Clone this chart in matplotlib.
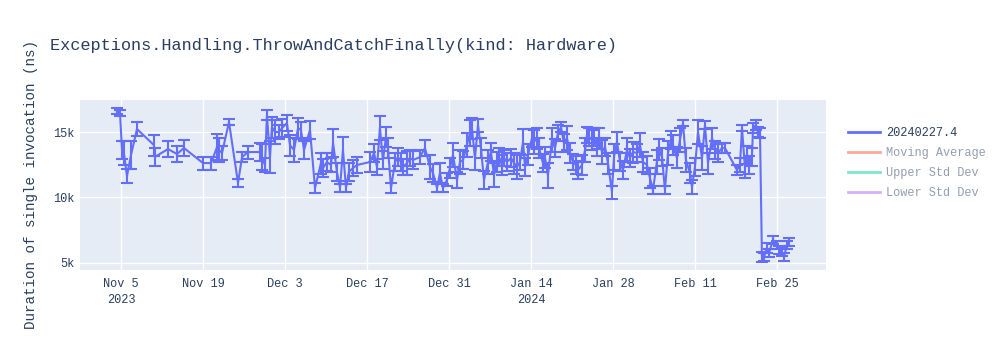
import pandas as pd
import matplotlib.pyplot as plt
import matplotlib.dates as mdates
from matplotlib.lines import Line2D
from matplotlib.ticker import FixedLocator, FuncFormatter

run_times = [
    "2023-11-04 07:40", "2023-11-04 20:00", "2023-11-05 04:00", "2023-11-05 12:00", "2023-11-06 00:30",
    "2023-11-06 17:00", "2023-11-07 17:30", "2023-11-10 15:00", "2023-11-10 19:00", "2023-11-13 00:30",
    "2023-11-14 13:30", "2023-11-15 18:00", "2023-11-19 00:00", "2023-11-20 09:00", "2023-11-21 09:30",
    "2023-11-21 17:30", "2023-11-22 06:00", "2023-11-23 10:30", "2023-11-24 23:30", "2023-11-25 16:00",
    "2023-11-26 16:30", "2023-11-28 17:30", "2023-11-29 01:30", "2023-11-29 14:00", "2023-11-29 22:00",
    "2023-11-30 10:30", "2023-11-30 18:30", "2023-12-01 07:00", "2023-12-01 23:30", "2023-12-02 12:00",
    "2023-12-03 08:00", "2023-12-03 20:30", "2023-12-04 13:00", "2023-12-05 05:30", "2023-12-05 17:30",
    "2023-12-06 06:00", "2023-12-07 06:30", "2023-12-08 03:00", "2023-12-09 03:30", "2023-12-09 11:45",
    "2023-12-10 04:00", "2023-12-10 20:30", "2023-12-11 05:00", "2023-12-11 21:00", "2023-12-12 09:30",
    "2023-12-12 21:30", "2023-12-13 10:00", "2023-12-13 22:00", "2023-12-14 14:30", "2023-12-15 07:00",
    "2023-12-17 12:00", "2023-12-18 05:00", "2023-12-18 17:00", "2023-12-19 05:00", "2023-12-19 17:30",
    "2023-12-20 06:00", "2023-12-20 14:00", "2023-12-21 02:30", "2023-12-21 19:00", "2023-12-22 07:00",
    "2023-12-22 19:30", "2023-12-23 03:30", "2023-12-23 20:00", "2023-12-24 08:00", "2023-12-24 20:30",
    "2023-12-26 01:00", "2023-12-26 21:30", "2023-12-27 18:00", "2023-12-28 06:30", "2023-12-28 23:00",
    "2023-12-29 11:00", "2023-12-29 23:30", "2023-12-30 16:00", "2023-12-31 04:00", "2023-12-31 16:30",
    "2024-01-01 09:00", "2024-01-01 21:00", "2024-01-02 09:30", "2024-01-03 01:30", "2024-01-03 14:00",
    "2024-01-03 22:00", "2024-01-04 10:30", "2024-01-04 23:00", "2024-01-05 11:00", "2024-01-05 23:30",
    "2024-01-06 16:00", "2024-01-07 04:00", "2024-01-07 16:30", "2024-01-08 05:00", "2024-01-08 13:00",
    "2024-01-09 01:00", "2024-01-09 09:30", "2024-01-09 21:30", "2024-01-10 14:00", "2024-01-11 02:30",
    "2024-01-11 14:30", "2024-01-12 03:00", "2024-01-12 15:30", "2024-01-12 23:30", "2024-01-13 12:00",
    "2024-01-14 04:00", "2024-01-14 12:00", "2024-01-15 00:45", "2024-01-15 09:00", "2024-01-16 01:00",
    "2024-01-16 09:30", "2024-01-16 21:30", "2024-01-17 14:00", "2024-01-18 02:30", "2024-01-18 14:30",
    "2024-01-19 03:00", "2024-01-19 15:00", "2024-01-20 03:30", "2024-01-20 16:00", "2024-01-21 04:00",
    "2024-01-21 16:30", "2024-01-22 00:45", "2024-01-22 17:00", "2024-01-23 05:30", "2024-01-23 13:30",
    "2024-01-23 21:30", "2024-01-24 10:00", "2024-01-24 18:00", "2024-01-25 06:30", "2024-01-25 14:45",
    "2024-01-26 03:00", "2024-01-26 15:30", "2024-01-27 03:30", "2024-01-27 20:00", "2024-01-28 04:00",
    "2024-01-28 16:30", "2024-01-29 05:00", "2024-01-29 17:00", "2024-01-30 09:30", "2024-01-30 21:30",
    "2024-01-31 10:00", "2024-02-01 02:30", "2024-02-01 14:30", "2024-02-02 03:00", "2024-02-02 19:30",
    "2024-02-03 07:30", "2024-02-03 20:00", "2024-02-04 12:00", "2024-02-04 20:30", "2024-02-05 09:00",
    "2024-02-05 21:00", "2024-02-06 09:30", "2024-02-06 22:00", "2024-02-07 06:00", "2024-02-07 22:30",
    "2024-02-08 10:30", "2024-02-08 23:00", "2024-02-09 11:00", "2024-02-10 03:30", "2024-02-10 12:00",
    "2024-02-11 00:00", "2024-02-11 12:30", "2024-02-12 05:00", "2024-02-12 17:00", "2024-02-13 05:30",
    "2024-02-13 22:00", "2024-02-14 10:00", "2024-02-14 22:30", "2024-02-15 14:30", "2024-02-16 03:00",
    "2024-02-18 04:00", "2024-02-18 16:30", "2024-02-19 00:45", "2024-02-19 13:00", "2024-02-19 21:00",
    "2024-02-20 05:30", "2024-02-20 17:30", "2024-02-20 22:00", "2024-02-21 10:00", "2024-02-21 18:00",
    "2024-02-22 02:30", "2024-02-22 10:30", "2024-02-22 19:00", "2024-02-23 07:00", "2024-02-23 15:30",
    "2024-02-24 07:45", "2024-02-25 00:00", "2024-02-25 08:30", "2024-02-25 20:30", "2024-02-26 05:00",
    "2024-02-26 17:00", "2024-02-27 01:00",
]

durations = [
    16600, 16450, 13630, 13400, 11640, 13250, 15230, 14000, 13100, 13700,
    13320, 13780, 12630, 12630, 13850, 13630, 13400, 15760, 11110, 13090,
    13470, 13470, 13090, 12480, 16300, 13090, 15380, 15000, 15000, 15300,
    15690, 14000, 13630, 15300, 15150, 13630, 15150, 10730, 12630, 12250,
    12710, 12480, 14160, 11950, 10730, 13630, 10730, 11950, 12250, 12480,
    12710, 13400, 12330, 15300, 12860, 14620, 13780, 10730, 12710, 13090,
    12710, 12330, 12630, 13020, 12860, 13090, 13780, 12330, 11870, 10730,
    11870, 10730, 11340, 12250, 13250, 11340, 12710, 12860, 14010, 14920,
    15300, 13020, 15530, 13780, 11340, 12710, 13470, 11720, 12710, 13090,
    12480, 13020, 12710, 13020, 12630, 12330, 12710, 14240, 12330, 13250,
    14540, 14240, 14540, 13780, 12630, 13020, 11700, 14390, 13780, 14920,
    15380, 14160, 14540, 13400, 12710, 12480, 12100, 12480, 13630, 14770,
    14620, 14390, 14620, 13860, 14540, 13470, 13860, 12630, 10400, 13090,
    14240, 12710, 12100, 13630, 13020, 13470, 13400, 14010, 12710, 12480,
    11490, 10580, 12710, 13630, 13090, 10580, 13400, 14390, 14010, 13020,
    14390, 15690, 12860, 11870, 10800, 12330, 15000, 13020, 15530, 12630,
    14540, 13630, 13400, 13780, 13780, 12100, 12480, 15300, 12250, 13250,
    12480, 13090, 15300, 15530, 15000, 14920, 5460, 5460, 6150, 5770,
    6760, 6380, 6000, 5840, 5460, 6380, 6610,
]

duration_err = [
    250, 250, 700, 900, 500, 1100, 500, 800, 700, 600,
    600, 600, 500, 500, 1000, 900, 500, 200, 300, 400,
    500, 700, 1000, 500, 350, 1200, 800, 900, 500, 700,
    600, 800, 900, 800, 600, 700, 700, 400, 800, 700,
    700, 500, 1100, 700, 300, 1000, 300, 700, 600, 600,
    800, 700, 600, 900, 700, 800, 800, 400, 700, 700,
    700, 600, 900, 600, 700, 500, 600, 900, 700, 300,
    800, 300, 500, 800, 900, 600, 900, 700, 900, 1000,
    800, 900, 500, 800, 700, 900, 700, 900, 800, 700,
    800, 600, 700, 700, 800, 900, 600, 1000, 700, 800,
    700, 900, 800, 800, 700, 800, 950, 900, 700, 600,
    400, 700, 900, 800, 600, 700, 700, 800, 900, 600,
    700, 800, 700, 700, 800, 900, 700, 800, 500, 1000,
    800, 700, 700, 900, 700, 800, 700, 900, 800, 700,
    800, 300, 900, 800, 700, 300, 900, 700, 800, 800,
    900, 200, 900, 800, 500, 700, 900, 900, 300, 800,
    800, 700, 700, 400, 400, 400, 500, 200, 800, 700,
    700, 700, 400, 400, 400, 400, 400, 300, 400, 300,
    300, 300, 300, 300, 300, 300, 300,
]

legend_labels = ["20240227.4", "Moving Average", "Upper Std Dev", "Lower Std Dev"]
legend_colors = ["#636efa", "#EF553B", "#00cc96", "#ab63fa"]

x_ticks = ["2023-11-05", "2023-11-19", "2023-12-03", "2023-12-17", "2023-12-31",
           "2024-01-14", "2024-01-28", "2024-02-11", "2024-02-25"]
year_ticks = ["2023-11-05", "2024-01-14"]
y_ticks = [5000, 10000, 15000]

times = pd.to_datetime(run_times)

plt.rcParams['font.family'] = ['Liberation Mono', 'DejaVu Sans Mono']
text_color = "#2a3f5f"

fig = plt.figure(figsize=(10, 3.5), dpi=100)
ax = fig.add_axes([0.08, 0.229, 0.746, 0.485])
ax.set_facecolor("#E5ECF6")

ax.errorbar(times, durations, yerr=duration_err, color=legend_colors[0],
            linewidth=1.5, elinewidth=1.5, capsize=4, capthick=1.5, zorder=3)

ax.set_xlim(pd.Timestamp("2023-10-29 00:00"), pd.Timestamp("2024-03-04 09:00"))
ax.set_ylim(4470, 17440)

tick_dates = pd.to_datetime(x_ticks)
year_dates = set(pd.to_datetime(year_ticks))
ax.xaxis.set_major_locator(FixedLocator(mdates.date2num(tick_dates)))
tick_text = []
for d in tick_dates:
    lbl = f"{d.strftime('%b')} {d.day}"
    if d in year_dates:
        lbl += f"\n{d.year}"
    tick_text.append(lbl)
ax.set_xticklabels(tick_text)

ax.yaxis.set_major_locator(FixedLocator(y_ticks))
ax.yaxis.set_major_formatter(FuncFormatter(lambda v, p: f"{int(v / 1000)}k"))

ax.grid(True, color="white", linewidth=1)
ax.set_axisbelow(True)
for s in ax.spines.values():
    s.set_visible(False)
ax.tick_params(length=0, labelsize=8.6, labelcolor=text_color, pad=4)
ax.tick_params(axis="x", pad=6)
for t in ax.get_xticklabels():
    t.set_linespacing(1.4)

ax.set_ylabel("Duration of single invocation (ns)", fontsize=10.3, color=text_color)
ax.yaxis.set_label_coords(-0.056, 0.5)

fig.text(0.05, 0.87, "Exceptions.Handling.ThrowAndCatchFinally(kind: Hardware)",
         fontsize=12.2, color=text_color, va="center", ha="left")

handles = []
for i, c in enumerate(legend_colors):
    handles.append(Line2D([0], [0], color=c, linewidth=2, alpha=1.0 if i == 0 else 0.5))
leg = fig.legend(handles, legend_labels, loc="upper left", bbox_to_anchor=(0.837, 0.668),
                 frameon=False, fontsize=8.6, handlelength=2.7, handletextpad=0.5,
                 labelspacing=0.68)
for i, t in enumerate(leg.get_texts()):
    t.set_color(text_color)
    if i > 0:
        t.set_alpha(0.5)

fig.savefig("out.png", dpi=100)
plt.close(fig)
